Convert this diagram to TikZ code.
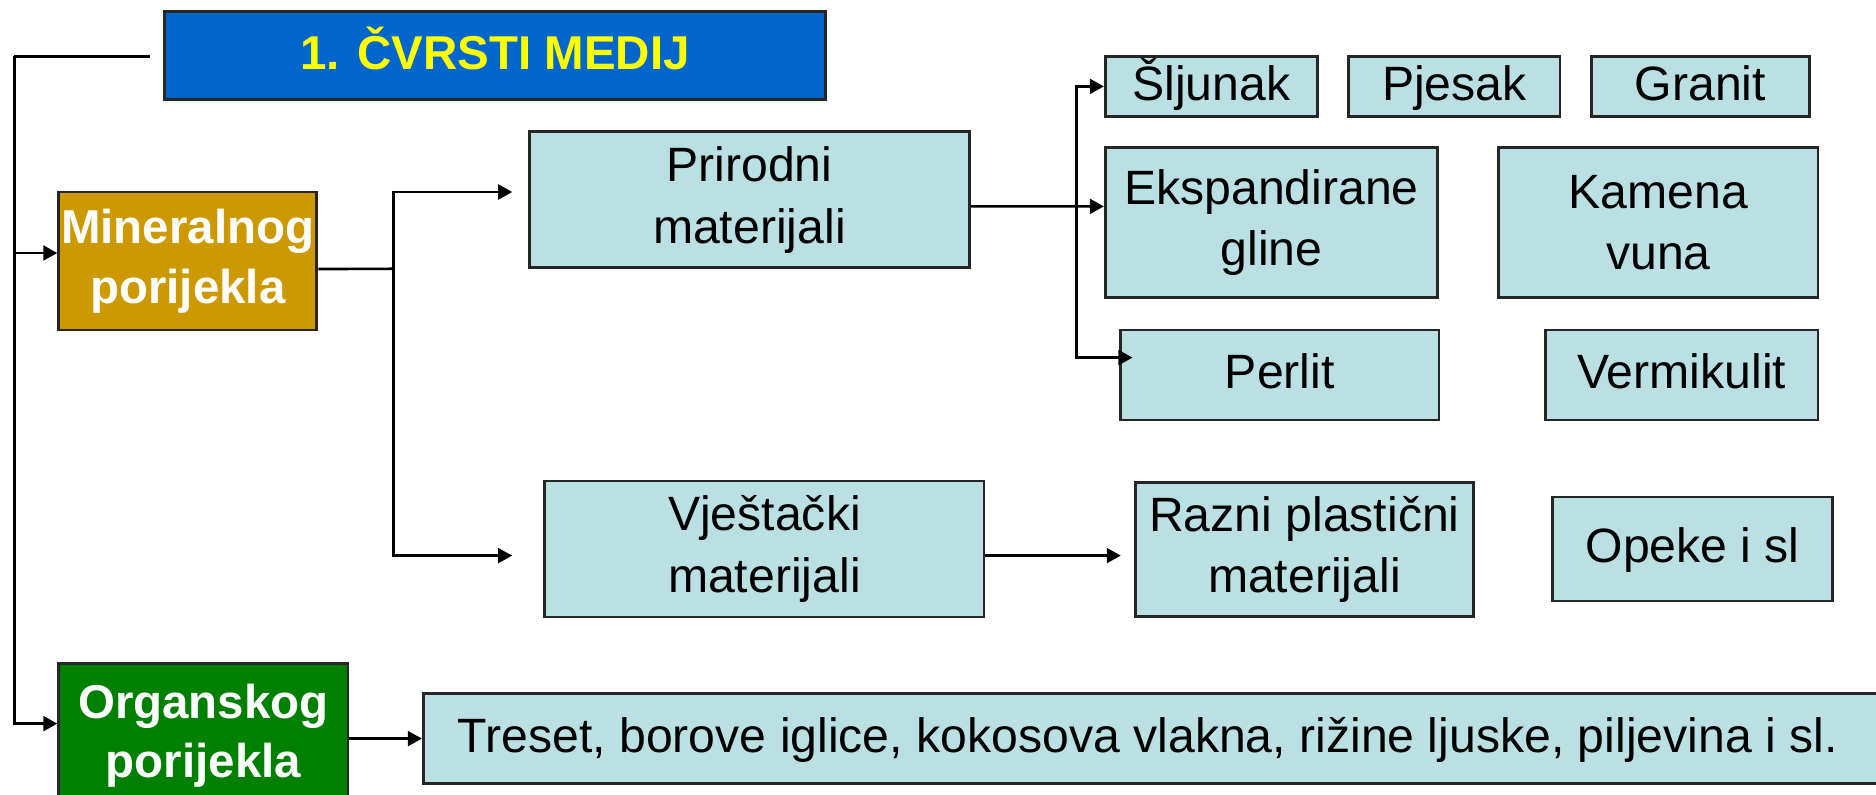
\documentclass[tikz,border=0pt]{standalone}
\usepackage{fontspec}
\setmainfont{Liberation Sans}
\usepackage{tikz}
\usetikzlibrary{positioning, arrows.meta, calc}

\definecolor{titleblue}{HTML}{0066CC}
\definecolor{titleyellow}{HTML}{FFFF00}
\definecolor{mineralgold}{HTML}{CC9900}
\definecolor{organgreen}{HTML}{008000}
\definecolor{boxcyan}{HTML}{BBE0E3}

\tikzset{
  box/.style={draw=black!85, line width=0.8pt, fill=boxcyan, inner sep=0pt,
    align=center, font=\fontsize{13.7}{17.5}\selectfont},
  oneline/.style={text height=2.1ex, text depth=0.6ex},
  headbox/.style={box, font=\fontsize{13.5}{17}\selectfont\bfseries, text=white},
  conn/.style={line width=0.75pt},
  arr/.style={conn, -{Triangle[length=4pt, width=4.2pt]}}
}

\begin{document}
\begin{tikzpicture}[x=0.012cm, y=-0.012cm]
\clip (0,0) rectangle (1563.3,661.7);
\fill[white] (0,0) rectangle (1563.3,661.7);

\node (title) at (412.5,46.5) [headbox, oneline, fill=titleblue, text=titleyellow, minimum width=6.61cm, minimum height=0.88cm] {1. ČVRSTI MEDIJ};
\node (mineral) at (156.5,217.5) [headbox, fill=mineralgold, minimum width=2.58cm, minimum height=1.38cm] {Mineralnog\\porijekla};
\node (organ) at (169.5,613) [headbox, fill=organgreen, minimum width=2.89cm, minimum height=1.44cm] {Organskog\\porijekla};

\node (prirodni) at (624.5,166.5) [box, minimum width=4.40cm, minimum height=1.36cm] {Prirodni\\materijali};
\node (vjestacki) at (637,457.5) [box, minimum width=4.39cm, minimum height=1.36cm] {Vještački\\materijali};

\node (sljunak) at (1009.5,72) [box, oneline, minimum width=2.12cm, minimum height=0.60cm] {Šljunak};
\node (pjesak) at (1212,72) [box, oneline, minimum width=2.11cm, minimum height=0.60cm] {Pjesak};
\node (granit) at (1417,72) [box, oneline, minimum width=2.18cm, minimum height=0.60cm] {Granit};
\node (ekspand) at (1059.5,185.5) [box, minimum width=3.32cm, minimum height=1.50cm] {Ekspandirane\\gline};
\node (kamena) at (1382,185.5) [box, minimum width=3.19cm, minimum height=1.50cm] {Kamena\\vuna};
\node (perlit) at (1066.5,312.5) [box, oneline, minimum width=3.18cm, minimum height=0.90cm] {Perlit};
\node (vermikulit) at (1401.5,312.5) [box, oneline, minimum width=2.72cm, minimum height=0.90cm] {Vermikulit};

\node (razni) at (1087,458) [box, minimum width=3.38cm, minimum height=1.34cm] {Razni plastični\\materijali};
\node (opeke) at (1410.5,457.5) [box, oneline, minimum width=2.80cm, minimum height=1.04cm] {Opeke i sl};

\node (treset) at (966.5,615.5) [box, oneline, minimum width=14.72cm, minimum height=0.90cm] {Treset, borove iglice, kokosova vlakna, rižine ljuske, piljevina i sl.\hspace*{0.24cm}};

\coordinate (tstart) at (125,47);
\coordinate (busA) at (12,47);
\coordinate (busB) at (328,224);
\coordinate (busC) at (897,172);
\coordinate (rzend) at (934,463);

\draw[conn] (tstart) -- (busA);
\draw[arr] (busA) |- ([yshift=0.08cm]mineral.west);
\draw[arr] (busA) |- ([yshift=0.12cm]organ.west);

\draw[conn] ([yshift=-0.08cm]mineral.east) -- (busB);
\draw[arr] (busB) |- ([xshift=-0.156cm, yshift=0.078cm]prirodni.west);
\draw[arr] (busB) |- ([xshift=-0.312cm, yshift=-0.066cm]vjestacki.west);

\draw[arr] ([yshift=-0.066cm]prirodni.east) -- (ekspand.west |- busC);
\draw[arr] (busC) |- (sljunak.west);
\draw[arr] (busC) |- ([xshift=0.132cm, yshift=0.174cm]perlit.west);

\draw[arr] (vjestacki.east |- rzend) -- (rzend);
\draw[arr] (organ.east |- treset.west) -- (treset.west);

\end{tikzpicture}
\end{document}
